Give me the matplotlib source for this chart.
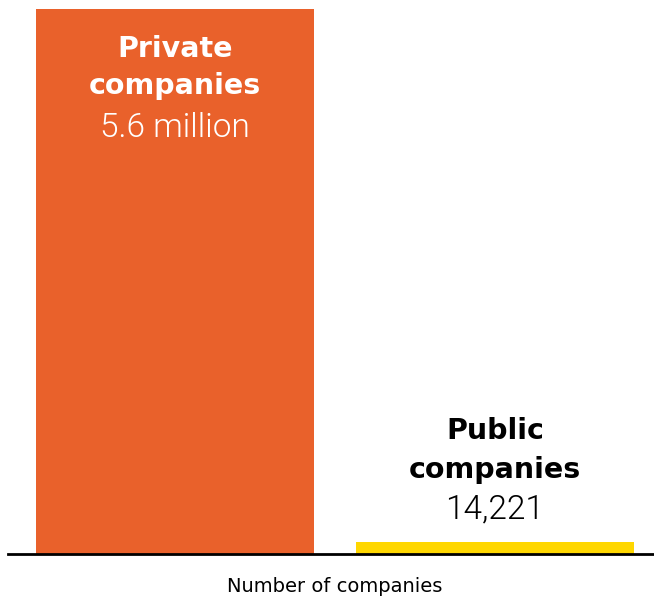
import matplotlib.pyplot as plt

# company counts
categories = ["Private companies", "Public companies"]
values = [5_600_000, 14_221]
value_text = ["5.6 million", "14,221"]
colors = ["#E9612B", "#FFD700"]

plt.rcParams['font.family'] = ['Roboto', 'DejaVu Sans']

fig = plt.figure(figsize=(6.54, 5.96), dpi=100)
ax = fig.add_axes([8 / 654, 42 / 596, 646 / 654, 545 / 596])

# small bars get a minimum visible height, like the original graphic
top = max(values)
shown = [max(v, 0.022 * top) for v in values]

x = [0, 1]
ax.bar(x, shown, width=0.869, color=colors, zorder=2)
ax.set_xlim(-0.522, 1.497)
ax.set_ylim(0, top)

for spine in ["top", "right", "left"]:
    ax.spines[spine].set_visible(False)
ax.spines["bottom"].set_linewidth(2)
ax.spines["bottom"].set_zorder(3)
ax.set_xticks([])
ax.set_yticks([])
ax.set_facecolor("none")

bold = dict(family=["DejaVu Sans"], fontsize=20.5, fontweight="bold", ha="center", va="baseline")
light = dict(fontsize=24, fontweight=300, ha="center", va="baseline")

# private label sits inside the bar (offsets in points from the bar top)
w1, w2 = categories[0].split(" ")
ax.annotate(w1, (x[0], shown[0]), xytext=(0, -34.5), textcoords="offset points",
            color="white", **bold)
ax.annotate(w2, (x[0], shown[0]), xytext=(0, -61.2), textcoords="offset points",
            color="white", **bold)
ax.annotate(value_text[0], (x[0], shown[0]), xytext=(0, -92.2), textcoords="offset points",
            color="white", **light)

# public label sits above its bar
w1, w2 = categories[1].split(" ")
ax.annotate(w1, (x[1], shown[1]), xytext=(0, 74.2), textcoords="offset points",
            color="black", **bold)
ax.annotate(w2, (x[1], shown[1]), xytext=(0, 46.1), textcoords="offset points",
            color="black", **bold)
ax.annotate(value_text[1], (x[1], shown[1]), xytext=(0, 17.3), textcoords="offset points",
            color="black", **light)

fig.text(335 / 654, 1 - 587 / 596, "Number of companies", ha="center", va="center",
         family=["DejaVu Sans"], fontsize=14, color="black")

fig.savefig("out.png", dpi=100)
